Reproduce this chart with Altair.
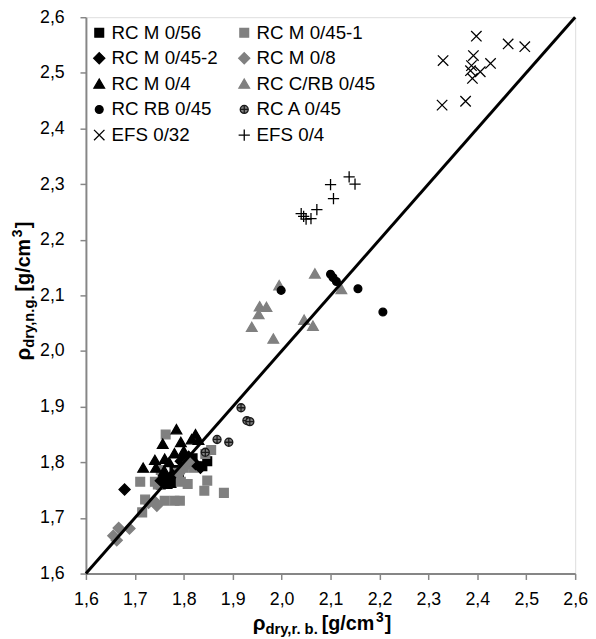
import altair as alt
import pandas as pd

# ---------------- data ----------------
axis_ticks = [1.6, 1.7, 1.8, 1.9, 2.0, 2.1, 2.2, 2.3, 2.4, 2.5, 2.6]
diag = [1.6, 2.6]

series_names = ["RC M 0/56", "RC M 0/45-1", "RC M 0/45-2", "RC M 0/8", "RC M 0/4",
                "RC C/RB 0/45", "RC RB 0/45", "RC A 0/45", "EFS 0/32", "EFS 0/4"]

rcm056_x = [1.757, 1.767, 1.775, 1.781, 1.818, 1.848, 1.753, 1.838, 1.790, 1.803]
rcm056_y = [1.768, 1.761, 1.763, 1.786, 1.807, 1.802, 1.760, 1.793, 1.780, 1.805]

rcm0451_x = [1.763, 1.711, 1.741, 1.721, 1.761, 1.781, 1.792, 1.794, 1.808, 1.842,
             1.848, 1.882, 1.856, 1.844, 1.715, 1.753, 1.788, 1.747, 1.800, 1.820]
rcm0451_y = [1.850, 1.765, 1.765, 1.733, 1.731, 1.731, 1.731, 1.765, 1.761, 1.749,
             1.767, 1.745, 1.822, 1.815, 1.710, 1.786, 1.781, 1.760, 1.790, 1.790]

rcm0452_x = [1.679, 1.794, 1.802, 1.834, 1.824, 1.753, 1.777, 1.763, 1.810]
rcm0452_y = [1.751, 1.802, 1.795, 1.790, 1.797, 1.767, 1.777, 1.772, 1.810]

rcm08_x = [1.656, 1.663, 1.667, 1.689, 1.728, 1.740, 1.745, 1.790, 1.800, 1.810]
rcm08_y = [1.668, 1.660, 1.682, 1.681, 1.727, 1.730, 1.722, 1.780, 1.790, 1.800]

rcm04_x = [1.785, 1.824, 1.757, 1.794, 1.816, 1.741, 1.717, 1.781, 1.761, 1.743,
           1.760, 1.800, 1.770, 1.830]
rcm04_y = [1.859, 1.850, 1.833, 1.836, 1.841, 1.804, 1.790, 1.816, 1.806, 1.790,
           1.785, 1.820, 1.800, 1.840]

rccrb_x = [1.995, 2.068, 2.122, 1.955, 1.969, 1.953, 1.939, 2.046, 2.064, 1.983]
rccrb_y = [2.118, 2.139, 2.111, 2.080, 2.079, 2.066, 2.043, 2.056, 2.045, 2.022]

rcrb_x = [1.999, 2.100, 2.105, 2.112, 2.156, 2.207]
rcrb_y = [2.109, 2.138, 2.132, 2.125, 2.112, 2.070]

rca_x = [1.917, 1.929, 1.935, 1.868, 1.892, 1.844]
rca_y = [1.898, 1.875, 1.873, 1.841, 1.836, 1.818]

efs032_x = [2.398, 2.463, 2.497, 2.330, 2.392, 2.388, 2.427, 2.406, 2.386, 2.390, 2.328, 2.376]
efs032_y = [2.566, 2.552, 2.547, 2.522, 2.531, 2.513, 2.517, 2.502, 2.504, 2.490, 2.442, 2.449]

efs04_x = [2.100, 2.106, 2.138, 2.150, 2.072, 2.040, 2.050, 2.060, 2.045]
efs04_y = [2.299, 2.274, 2.313, 2.300, 2.254, 2.247, 2.237, 2.238, 2.242]

groups = [
    (series_names[0], rcm056_x, rcm056_y),
    (series_names[1], rcm0451_x, rcm0451_y),
    (series_names[2], rcm0452_x, rcm0452_y),
    (series_names[3], rcm08_x, rcm08_y),
    (series_names[4], rcm04_x, rcm04_y),
    (series_names[5], rccrb_x, rccrb_y),
    (series_names[6], rcrb_x, rcrb_y),
    (series_names[7], rca_x, rca_y),
    (series_names[8], efs032_x, efs032_y),
    (series_names[9], efs04_x, efs04_y),
]
rows = []
for name, xs, ys_ in groups:
    for a, b in zip(xs, ys_):
        rows.append({"series": name, "x": a, "y": b})
df = pd.DataFrame(rows)
line_df = pd.DataFrame({"x": diag, "y": diag})

# ---------------- styling ----------------
FONT = "Liberation Sans"
BLACK = "#000000"
GRAY = "#808080"
AXIS_GRAY = "#868686"

sq = "M-0.74,-0.74L0.74,-0.74L0.74,0.74L-0.74,0.74Z"
dia = "M0,-0.94L0.94,0L0,0.94L-0.94,0Z"
tri = "M0,-0.82L0.9,0.74L-0.9,0.74Z"
circ = "M-0.66,0A0.66,0.66,0,1,0,0.66,0A0.66,0.66,0,1,0,-0.66,0Z"
circ_plus = ("M-0.68,0A0.68,0.68,0,1,0,0.68,0A0.68,0.68,0,1,0,-0.68,0Z"
             "M-0.68,0L0.68,0M0,-0.68L0,0.68")
xmark = "M-0.88,-0.88L0.88,0.88M-0.88,0.88L0.88,-0.88"
pmark = "M-0.95,0L0.95,0M0,-0.95L0,0.95"

style = {
    "RC M 0/56": (sq, BLACK, BLACK),
    "RC M 0/45-1": (sq, GRAY, GRAY),
    "RC M 0/45-2": (dia, BLACK, BLACK),
    "RC M 0/8": (dia, GRAY, GRAY),
    "RC M 0/4": (tri, BLACK, BLACK),
    "RC C/RB 0/45": (tri, GRAY, GRAY),
    "RC RB 0/45": (circ, BLACK, BLACK),
    "RC A 0/45": (circ_plus, GRAY, "#1a1a1a"),
    "EFS 0/32": (xmark, "transparent", BLACK),
    "EFS 0/4": (pmark, "transparent", BLACK),
}
# legend is filled column by column: left column first, then right column
legend_order = ["RC M 0/56", "RC M 0/45-2", "RC M 0/4", "RC RB 0/45", "EFS 0/32",
                "RC M 0/45-1", "RC M 0/8", "RC C/RB 0/45", "RC A 0/45", "EFS 0/4"]
shapes = [style[n][0] for n in legend_order]
fills = [style[n][1] for n in legend_order]
strokes = [style[n][2] for n in legend_order]

legend = alt.Legend(title=None, orient="none", legendX=4, legendY=6, columns=2,
                    columnPadding=17, rowPadding=6, labelFontSize=19, labelFont=FONT,
                    labelColor="black", symbolSize=144, labelOffset=3, padding=0,
                    symbolStrokeWidth=1.3, labelLimit=300)

label_expr = "replace(format(datum.value, '.1f'), '.', ',')"

xscale = alt.Scale(domain=[1.6, 2.6], nice=False, zero=False)
yscale = alt.Scale(domain=[1.6, 2.6], nice=False, zero=False)

xaxis = alt.Axis(values=axis_ticks, title=None, grid=False, labelExpr=label_expr,
                 labelFontSize=18, labelFont=FONT, labelColor="black", labelPadding=11,
                 domainColor=AXIS_GRAY, domainWidth=2, tickColor=AXIS_GRAY, tickWidth=1.5,
                 tickSize=6, labelFlush=False)
yaxis = alt.Axis(values=axis_ticks, title=None, grid=False, labelExpr=label_expr,
                 labelFontSize=18, labelFont=FONT, labelColor="black", labelPadding=16,
                 domainColor=AXIS_GRAY, domainWidth=2, tickColor=AXIS_GRAY, tickWidth=1.5,
                 tickSize=6, labelFlush=False)

points = alt.Chart(df).mark_point(opacity=1, strokeWidth=1.3, size=144).encode(
    x=alt.X("x:Q", scale=xscale, axis=xaxis),
    y=alt.Y("y:Q", scale=yscale, axis=yaxis),
    shape=alt.Shape("series:N", scale=alt.Scale(domain=legend_order, range=shapes), legend=legend),
    fill=alt.Fill("series:N", scale=alt.Scale(domain=legend_order, range=fills), legend=legend),
    stroke=alt.Stroke("series:N", scale=alt.Scale(domain=legend_order, range=strokes), legend=legend),
)

diag_line = alt.Chart(line_df).mark_line(color="black", strokeWidth=3).encode(
    x=alt.X("x:Q", scale=xscale),
    y=alt.Y("y:Q", scale=yscale),
)

one = pd.DataFrame({"k": [0]})


def piece(txt, px, py, size, angle=0):
    kw = dict(text=txt, font=FONT, fontWeight="bold", fontSize=size,
              align="left", baseline="alphabetic", color="black")
    if angle:
        kw["angle"] = angle
    return alt.Chart(one).mark_text(**kw).encode(x=alt.value(px), y=alt.value(py))


# x-axis title: ρ_{dry,r. b.} [g/cm³]
xb = 621
x_title = [
    piece("ρ", 169, xb, 21),
    piece("dry,r. b.", 182, xb + 4, 15),
    piece("[g/cm", 239, xb, 20),
    piece("3", 294, xb - 8, 14),
    piece("]", 303, xb, 20),
]
# y-axis title: ρ_{dry,n.g.} [g/cm³] (rotated)
yb = -57
ys = 348
y_title = [
    piece("ρ", yb, ys, 21, 270),
    piece("dry,n.g.", yb + 4, ys - 13, 15, 270),
    piece("[g/cm", yb, ys - 70, 20, 270),
    piece("3", yb - 8, ys - 125, 14, 270),
    piece("]", yb, ys - 134, 20, 270),
]

chart = alt.layer(points, diag_line, *x_title, *y_title).properties(
    width=496, height=564,
    autosize=alt.AutoSizeParams(type="none"),
    padding={"left": 79, "top": 5, "right": 13, "bottom": 62},
).configure_view(stroke="black", strokeWidth=1.5).configure(background="white")

chart.save("out.html", embed_options={"renderer": "svg", "actions": False})
